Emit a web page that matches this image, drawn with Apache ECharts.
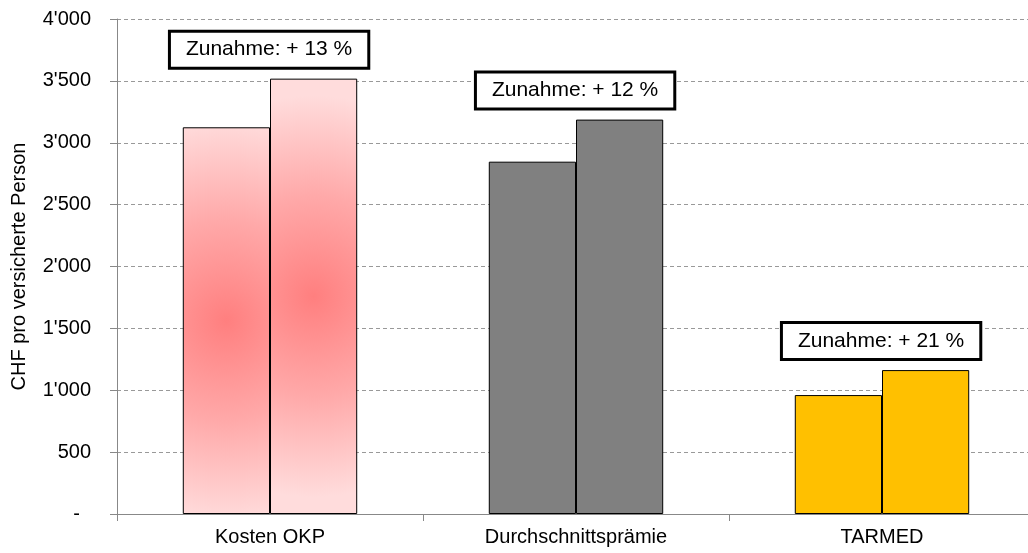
<!DOCTYPE html>
<html>
<head>
<meta charset="utf-8">
<script src="https://cdn.jsdelivr.net/npm/echarts@6/dist/echarts.min.js"></script>
<style>
html,body{margin:0;padding:0;background:#fff;overflow:hidden;}
#chart{width:1028px;height:553px;}
</style>
</head>
<body>
<div id="chart"></div>
<script>
const categories = ['Kosten OKP', 'Durchschnittsprämie', 'TARMED'];
const valuesYear1 = [3125, 2847, 961];
const valuesYear2 = [3518, 3187, 1163];
const increases = [13, 12, 21];
const yTicks = [0, 500, 1000, 1500, 2000, 2500, 3000, 3500, 4000];
const yAxisName = 'CHF pro versicherte Person';

const FONT = "'Liberation Sans', Arial, sans-serif";
const pinkFill = {
  type: 'radial', x: 0.5, y: 0.5, r: 2.3,
  colorStops: [
    { offset: 0, color: '#FF7F7F' },
    { offset: 0.5, color: '#FFA9A9' },
    { offset: 1, color: '#FFDCDC' }
  ]
};
const fills = [pinkFill, '#808080', '#FFC000'];

function fmt(v) {
  if (v === 0) return '-  ';
  const s = String(v);
  return s.length > 3 ? s.slice(0, s.length - 3) + "'" + s.slice(-3) : s;
}

function buildData(vals) {
  return vals.map((v, i) => ({ value: v, itemStyle: { color: fills[i] } }));
}

const chart = echarts.init(document.getElementById('chart'), null, { renderer: 'canvas' });
chart.setOption({
  animation: false,
  backgroundColor: '#fff',
  grid: { left: 117, width: 918, top: 19, bottom: 39, containLabel: false, outerBoundsMode: 'none' },
  xAxis: {
    type: 'category',
    data: categories,
    axisLine: { show: true, lineStyle: { color: '#888', width: 1 } },
    axisTick: { show: true, length: 7, lineStyle: { color: '#888' } },
    axisLabel: { color: '#000', fontSize: 20, fontFamily: FONT, margin: 13 }
  },
  yAxis: {
    type: 'value',
    min: yTicks[0],
    max: yTicks[yTicks.length - 1],
    interval: 500,
    name: yAxisName,
    nameLocation: 'middle',
    nameGap: 88,
    nameRotate: 90,
    nameTextStyle: { color: '#000', fontSize: 20, fontFamily: FONT },
    axisLine: { show: true, lineStyle: { color: '#888', width: 1 } },
    axisTick: { show: true, length: 7, lineStyle: { color: '#888' } },
    axisLabel: { color: '#000', fontSize: 20, fontFamily: FONT, margin: 26, formatter: fmt },
    splitLine: { show: true, lineStyle: { color: '#999', type: [4, 3], width: 1 } }
  },
  series: [
    {
      type: 'bar',
      data: buildData(valuesYear1),
      barGap: '0%',
      barCategoryGap: '43%',
      itemStyle: { borderColor: '#000', borderWidth: 1 }
    },
    {
      type: 'bar',
      data: buildData(valuesYear2),
      barGap: '0%',
      barCategoryGap: '43%',
      itemStyle: { borderColor: '#000', borderWidth: 1 },
      label: {
        show: true,
        position: 'top',
        distance: 12,
        offset: [-44.5, 0],
        formatter: p => 'Zunahme: + ' + increases[p.dataIndex] + ' %',
        color: '#000',
        fontSize: 21,
        fontFamily: FONT,
        lineHeight: 20,
        backgroundColor: '#fff',
        borderColor: '#000',
        borderWidth: 3,
        padding: [7, 15]
      }
    }
  ]
});
</script>
</body>
</html>
